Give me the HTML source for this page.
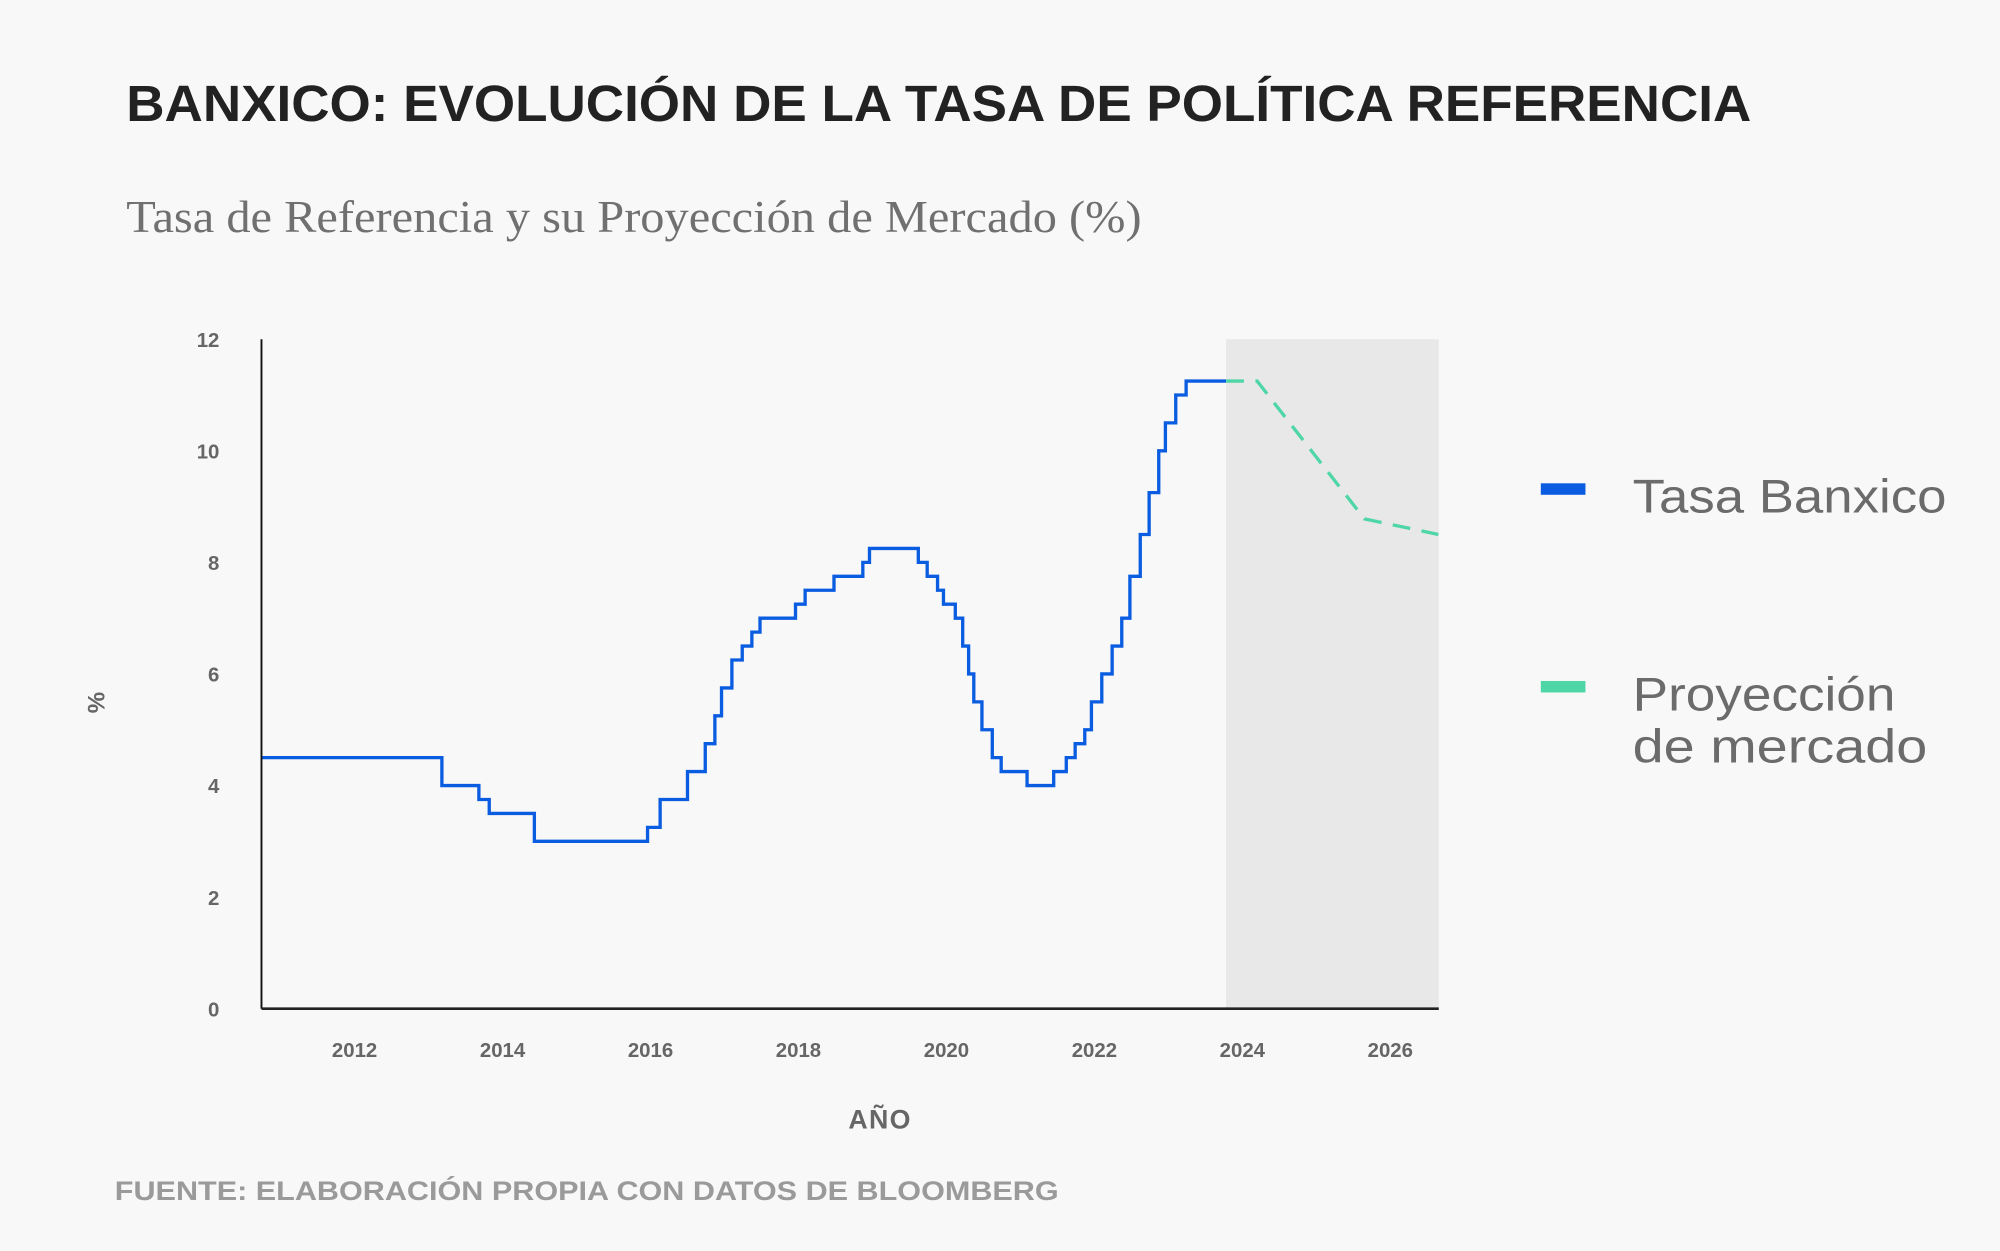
<!DOCTYPE html>
<html><head><meta charset="utf-8"><style>
html,body{margin:0;padding:0;background:#f8f8f8;}
svg{display:block;}
</style></head><body>
<svg id="chart" width="2000" height="1251" viewBox="0 0 1568 981" preserveAspectRatio="none" xmlns="http://www.w3.org/2000/svg">
<rect x="0" y="0" width="1568" height="981" fill="#f8f8f8"/>
<text x="99" y="95" font-family="Liberation Sans, sans-serif" font-weight="bold" font-size="40" fill="#222" textLength="1274" lengthAdjust="spacingAndGlyphs">BANXICO: EVOLUCIÓN DE LA TASA DE POLÍTICA REFERENCIA</text>
<text x="99" y="182" font-family="Liberation Serif, serif" font-size="36" fill="#707070" textLength="796" lengthAdjust="spacingAndGlyphs">Tasa de Referencia y su Proyección de Mercado (%)</text>
<rect id="shade" y="266" height="525" fill="#e8e8e8"/>
<g id="yticks"></g>
<g id="xticks"></g>
<path id="actual" fill="none" stroke="#0a5ce0" stroke-width="2.6"/>
<path id="proj" fill="none" stroke="#4fd6a6" stroke-width="2.6" stroke-dasharray="14,9"/>
<line x1="205" y1="266" x2="205" y2="791" stroke="#111" stroke-width="1.5"/>
<line x1="205" y1="791" x2="1128" y2="791" stroke="#222" stroke-width="2"/>
<text transform="translate(82,551) rotate(-90)" text-anchor="middle" font-family="Liberation Sans, sans-serif" font-weight="bold" font-size="19" fill="#666">%</text>
<text x="690" y="885" text-anchor="middle" font-family="Liberation Sans, sans-serif" font-weight="bold" font-size="21" fill="#666" letter-spacing="1">AÑO</text>
<text x="90" y="941" font-family="Liberation Sans, sans-serif" font-weight="bold" font-size="21" fill="#9a9a9a" textLength="740" lengthAdjust="spacingAndGlyphs">FUENTE: ELABORACIÓN PROPIA CON DATOS DE BLOOMBERG</text>
<g>
<rect x="1208" y="379" width="35" height="9" fill="#0a5ce0"/>
<text x="1280" y="402" font-family="Liberation Sans, sans-serif" font-size="37" fill="#6b6b6b" textLength="246" lengthAdjust="spacingAndGlyphs">Tasa Banxico</text>
<rect x="1208" y="534" width="35" height="9" fill="#4fd6a6"/>
<text x="1280" y="557" font-family="Liberation Sans, sans-serif" font-size="37" fill="#6b6b6b" textLength="206" lengthAdjust="spacingAndGlyphs">Proyección</text>
<text x="1280" y="598" font-family="Liberation Sans, sans-serif" font-size="37" fill="#6b6b6b" textLength="231" lengthAdjust="spacingAndGlyphs">de mercado</text>
</g>
</svg>
<script>
const stepDates = [2010.74,2013.18,2013.68,2013.82,2014.43,2015.96,2016.13,2016.5,2016.74,2016.87,2016.96,2017.1,2017.24,2017.37,2017.48,2017.96,2018.09,2018.48,2018.87,2018.96,2019.62,2019.74,2019.88,2019.96,2020.12,2020.22,2020.3,2020.37,2020.48,2020.62,2020.74,2021.09,2021.45,2021.62,2021.74,2021.87,2021.96,2022.1,2022.24,2022.37,2022.48,2022.62,2022.74,2022.87,2022.96,2023.1,2023.24];
const stepRates = [4.5,4.0,3.75,3.5,3.0,3.25,3.75,4.25,4.75,5.25,5.75,6.25,6.5,6.75,7.0,7.25,7.5,7.75,8.0,8.25,8.0,7.75,7.5,7.25,7.0,6.5,6.0,5.5,5.0,4.5,4.25,4.0,4.25,4.5,4.75,5.0,5.5,6.0,6.5,7.0,7.75,8.5,9.25,10.0,10.5,11.0,11.25];
const actualEnd = 2023.78;
const projDates = [2023.78,2024.2,2025.65,2026.65];
const projRates = [11.25,11.25,8.78,8.5];
const yTicks = [0,2,4,6,8,10,12];
const xTicks = [2012,2014,2016,2018,2020,2022,2024,2026];

const X = t => 278 + (t - 2012) * 58;
const Y = v => 791 - v * 43.75;
const NS = 'http://www.w3.org/2000/svg';

let d = '';
for (let i = 0; i < stepDates.length; i++) {
  const x = X(stepDates[i]), y = Y(stepRates[i]);
  if (i === 0) d += 'M' + x + ' ' + y;
  else d += ' L' + x + ' ' + Y(stepRates[i-1]) + ' L' + x + ' ' + y;
}
d += ' L' + X(actualEnd) + ' ' + Y(stepRates[stepRates.length-1]);
document.getElementById('actual').setAttribute('d', d);

let p = '';
projDates.forEach((t, i) => { p += (i ? ' L' : 'M') + X(t) + ' ' + Y(projRates[i]); });
document.getElementById('proj').setAttribute('d', p);

const shade = document.getElementById('shade');
shade.setAttribute('x', X(actualEnd));
shade.setAttribute('width', 1128 - X(actualEnd));

const yg = document.getElementById('yticks');
yTicks.forEach(v => {
  const t = document.createElementNS(NS, 'text');
  
  
  t.setAttribute('x', 172);
  t.setAttribute('y', Y(v) + 6);
  t.setAttribute('text-anchor', 'end');
  t.setAttribute('font-family', 'Liberation Sans, sans-serif');
  t.setAttribute('font-weight', 'bold');
  t.setAttribute('font-size', '16');
  t.setAttribute('fill', '#666');
  t.textContent = v;
  yg.appendChild(t);
});
const xg = document.getElementById('xticks');
xTicks.forEach(v => {
  const t = document.createElementNS(NS, 'text');
  
  
  t.setAttribute('x', X(v));
  t.setAttribute('y', 829);
  t.setAttribute('text-anchor', 'middle');
  t.setAttribute('font-family', 'Liberation Sans, sans-serif');
  t.setAttribute('font-weight', 'bold');
  t.setAttribute('font-size', '16');
  t.setAttribute('fill', '#666');
  t.textContent = v;
  xg.appendChild(t);
});
</script>
</body></html>
